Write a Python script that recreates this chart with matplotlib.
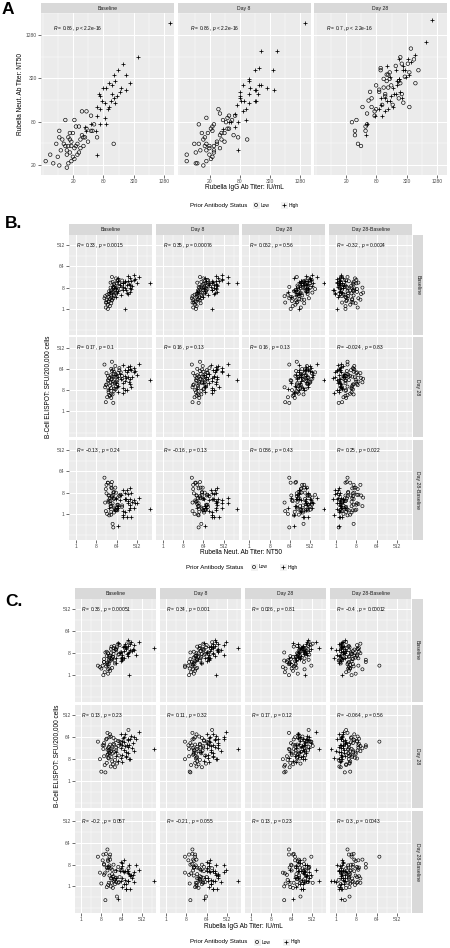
import numpy as np
import matplotlib
matplotlib.use("Agg")
import matplotlib.pyplot as plt
from matplotlib.ticker import FixedLocator, NullFormatter
from matplotlib.patches import Rectangle

plt.rcParams['font.family'] = ['Liberation Sans', 'DejaVu Sans']
plt.rcParams['mathtext.fontset'] = 'custom'
plt.rcParams['mathtext.rm'] = 'Liberation Sans'
plt.rcParams['mathtext.it'] = 'Liberation Sans:italic'

# ---------------- data: one entry per subject, values in log2 units ----------------
prior_status = ["Low"] * 52 + ["High"] * 37

igg_base_log2 = [3.8, 4.4, 4.9, 5.2, 5.5, 4.5, 4.7, 3.4, 3.4, 4.0, 4.3, 4.9, 5.0, 5.1, 5.5, 5.6, 5.9, 4.1,
                 4.2, 3.7, 3.8, 4.0, 4.2, 4.4, 4.5, 4.8, 5.0, 3.5, 3.9, 4.1, 4.6, 3.9, 4.3, 4.4, 2.8, 3.3,
                 2.5, 3.0, 3.4, 4.0, 3.9, 7.0, 4.6, 5.3, 4.1, 3.6, 4.8, 5.2, 4.2, 3.2, 5.7, 4.7,
                 10.7, 8.6, 7.6, 7.0, 7.8, 7.1, 8.1, 6.7, 6.3, 7.8, 6.5, 6.9, 6.1, 7.2, 7.0, 6.2, 6.4,
                 6.8, 7.1, 5.9, 6.1, 6.6, 5.9, 6.4, 5.5, 6.1, 6.5, 5.1, 5.2, 5.8, 5.9, 7.4, 6.7, 7.3,
                 7.5, 6.0, 6.9]
igg_day8_log2 = [4.1, 4.9, 5.0, 5.5, 5.6, 4.6, 5.2, 3.6, 3.8, 4.5, 4.5, 5.1, 5.0, 5.6, 5.5, 5.8, 6.2, 4.2,
                 4.1, 3.9, 4.3, 4.0, 4.3, 4.8, 4.6, 5.0, 5.3, 3.7, 4.0, 4.6, 4.6, 4.1, 4.3, 4.5, 2.8, 3.4,
                 2.8, 3.5, 3.4, 4.1, 3.9, 6.8, 5.1, 5.9, 4.4, 3.6, 5.3, 5.4, 4.4, 3.3, 6.0, 4.8,
                 10.6, 8.8, 7.7, 7.3, 8.5, 7.6, 8.6, 6.9, 6.5, 8.1, 6.9, 7.0, 6.3, 7.5, 7.3, 6.3, 6.6,
                 6.9, 7.4, 6.1, 6.4, 6.7, 6.0, 6.5, 5.6, 6.2, 6.7, 5.7, 5.2, 6.0, 6.2, 7.4, 6.9, 7.6,
                 7.7, 6.3, 7.3]
igg_day28_log2 = [7.2, 7.6, 6.8, 7.1, 8.6, 6.3, 6.6, 5.9, 7.8, 6.8, 7.0, 7.4, 5.4, 7.8, 9.1, 8.0, 8.1, 6.6,
                  7.1, 6.3, 5.8, 7.9, 6.5, 8.0, 6.9, 8.2, 5.7, 5.0, 6.0, 8.5, 6.7, 5.7, 6.2, 4.9, 4.7, 5.6,
                  8.9, 5.1, 5.3, 6.9, 5.6, 8.5, 7.9, 7.3, 7.2, 4.9, 7.0, 8.4, 6.0, 6.5, 8.8, 6.2,
                  10.0, 9.6, 8.9, 8.4, 8.6, 7.8, 8.2, 7.6, 7.2, 7.8, 7.0, 8.1, 7.2, 7.7, 7.4, 6.9, 7.6,
                  7.8, 8.0, 7.0, 6.7, 7.3, 6.6, 7.9, 6.2, 6.9, 7.5, 6.5, 5.7, 7.1, 5.6, 8.3, 7.4, 8.1,
                  8.5, 6.6, 7.7]
neut_base_log2 = [6.4, 6.4, 6.8, 6.8, 6.6, 6.1, 6.1, 5.9, 5.6, 5.6, 5.8, 5.7, 5.6, 5.6, 5.9, 5.9, 5.6, 5.5,
                  5.4, 5.3, 5.2, 5.2, 5.2, 5.1, 5.2, 5.1, 5.2, 5.0, 5.0, 4.9, 4.8, 4.8, 4.7, 4.6, 4.8, 4.7,
                  4.5, 4.4, 4.3, 4.4, 4.2, 5.3, 5.3, 5.4, 5.8, 5.5, 5.5, 6.0, 4.5, 5.3, 6.2, 4.9,
                  10.9, 9.3, 9.0, 8.5, 8.5, 8.2, 8.1, 8.1, 7.9, 7.8, 7.9, 8.0, 7.5, 7.5, 7.4, 7.3, 7.2,
                  7.3, 7.2, 7.0, 6.9, 6.9, 6.6, 6.5, 6.2, 6.2, 6.2, 6.1, 5.9, 5.9, 4.8, 7.7, 7.0, 8.7,
                  7.9, 7.6, 7.6]
neut_day8_log2 = [6.5, 6.9, 6.7, 6.5, 6.6, 6.2, 6.4, 6.2, 5.8, 6.1, 5.9, 5.8, 5.7, 6.0, 6.0, 6.4, 5.6, 5.8,
                  5.3, 5.5, 5.2, 5.6, 5.1, 5.4, 5.2, 5.1, 5.4, 5.0, 5.2, 5.0, 4.9, 5.0, 4.8, 4.7, 4.8, 4.9,
                  4.5, 4.4, 4.4, 4.5, 4.3, 5.5, 5.5, 5.7, 6.0, 5.3, 5.8, 6.3, 4.6, 5.3, 6.6, 5.3,
                  10.9, 9.6, 9.6, 8.7, 8.7, 8.0, 7.8, 8.3, 8.0, 7.9, 8.2, 7.9, 7.7, 7.6, 7.3, 7.4, 7.3,
                  7.6, 7.3, 7.1, 7.3, 6.9, 6.7, 6.8, 6.3, 6.3, 6.4, 6.3, 6.0, 6.1, 5.0, 7.8, 7.2, 8.8,
                  8.0, 7.5, 7.8]
neut_day28_log2 = [8.6, 8.9, 8.3, 7.9, 9.7, 8.0, 8.7, 7.7, 7.4, 7.9, 8.5, 7.1, 7.0, 8.2, 8.7, 7.6, 7.2, 8.8,
                   8.5, 6.9, 7.3, 8.1, 7.8, 9.0, 7.5, 8.4, 6.7, 6.4, 7.4, 8.6, 7.1, 6.2, 6.8, 5.7, 6.3, 6.1,
                   8.1, 5.3, 5.2, 7.6, 5.9, 7.0, 9.3, 8.0, 8.3, 5.9, 8.2, 9.0, 7.0, 7.7, 9.2, 6.6,
                   11.0, 10.0, 9.4, 9.2, 9.1, 9.2, 8.7, 8.7, 8.4, 8.3, 8.9, 8.7, 7.3, 8.0, 7.0, 7.4, 7.6,
                   8.3, 7.4, 7.3, 6.6, 7.5, 7.1, 7.7, 6.6, 6.8, 7.6, 6.9, 6.2, 6.9, 5.7, 8.4, 7.9, 8.9,
                   8.5, 7.4, 8.2]
spot_base_log2 = [3.2, 3.6, 4.0, 3.4, 2.8, 3.9, 2.5, 2.2, 1.8, 3.0, 2.7, 3.3, 2.0, 3.5, 4.3, 2.9, 3.1, 1.5,
                  2.4, 1.2, 2.6, 0.8, 1.9, 3.0, 2.2, 3.7, 1.6, 0.4, 1.4, 2.1, 1.0, 1.7, 0.6, 2.0, 1.1, 0.0,
                  1.3, 0.9, 1.8, 0.2, 1.5, 4.5, 2.3, 3.8, 2.6, 3.1, 2.9, 3.6, 0.9, 1.3, 4.1, 2.5,
                  3.7, 4.5, 3.6, 4.8, 4.1, 3.2, 2.8, 3.9, 2.4, 3.5, 4.3, 3.0, 2.2, 3.4, 2.6, 3.8, 4.0,
                  2.9, 0.0, 3.1, 2.7, 3.6, 2.0, 3.3, 4.4, 2.5, 3.9, 2.3, 1.7, 3.0, 2.4, 4.6, 3.7, 4.2,
                  3.3, 2.1, 4.0]
spot_day28_log2 = [5.8, 6.1, 5.0, 4.6, 5.5, 4.4, 3.8, 5.2, 4.9, 3.2, 6.4, 4.0, 2.9, 5.6, 4.8, 3.5, 5.3, 4.2,
                   3.9, 5.7, 2.5, 4.5, 6.0, 4.1, 3.3, 5.1, 1.9, 2.2, 3.6, 4.7, 2.7, 4.3, 5.0, 2.0, 3.0, 4.4,
                   5.4, 1.3, 3.4, 3.7, 6.6, 7.0, 4.6, 2.4, 3.1, 1.2, 5.9, 4.2, 3.8, 4.9, 5.4, 2.3,
                   4.4, 6.7, 5.2, 5.6, 6.1, 4.9, 5.8, 3.5, 6.0, 4.1, 6.4, 3.8, 5.5, 3.0, 4.7, 5.9, 4.3,
                   5.0, 3.0, 6.5, 2.6, 4.0, 4.6, 5.3, 2.7, 3.6, 4.8, 3.4, 4.0, 5.1, 3.2, 6.2, 3.3, 5.7,
                   4.5, 4.9, 5.8]

time_cols = ["Baseline", "Day 8", "Day 28", "Day 28-Baseline"]
spot_rows = ["Baseline", "Day 28", "Day 28-Baseline"]

cor_A_r = ["0.86", "0.86", "0.7"]
cor_A_p = ["< 2.2e-16", "< 2.2e-16", "< 2.2e-16"]
cor_B_r = [["0.33", "0.35", "0.062", "\u22120.32"],
           ["0.17", "0.16", "0.16", "\u22120.024"],
           ["\u22120.13", "\u22120.16", "0.086", "0.25"]]
cor_B_p = [["= 0.0015", "= 0.00076", "= 0.56", "= 0.0024"],
           ["= 0.1", "= 0.13", "= 0.13", "= 0.83"],
           ["= 0.24", "= 0.13", "= 0.43", "= 0.022"]]
cor_C_r = [["0.36", "0.34", "0.026", "\u22120.4"],
           ["0.13", "0.11", "0.17", "\u22120.064"],
           ["\u22120.2", "\u22120.21", "0.13", "0.3"]]
cor_C_p = [["= 0.00051", "= 0.001", "= 0.81", "= 0.00012"],
           ["= 0.23", "= 0.32", "= 0.12", "= 0.56"],
           ["= 0.057", "= 0.055", "= 0.23", "= 0.0043"]]

ticks_A = [20, 80, 320, 1280]
ticks_BC = [1, 8, 64, 512]

# ---------------- derived (titers) ----------------
status = np.array(prior_status)
IGG = {"Baseline": 2.0 ** np.array(igg_base_log2),
       "Day 8": 2.0 ** np.array(igg_day8_log2),
       "Day 28": 2.0 ** np.array(igg_day28_log2)}
IGG["Day 28-Baseline"] = IGG["Day 28"] / IGG["Baseline"]
NEUT = {"Baseline": 2.0 ** np.array(neut_base_log2),
        "Day 8": 2.0 ** np.array(neut_day8_log2),
        "Day 28": 2.0 ** np.array(neut_day28_log2)}
NEUT["Day 28-Baseline"] = NEUT["Day 28"] / NEUT["Baseline"]
SPOT = {"Baseline": 2.0 ** np.array(spot_base_log2),
        "Day 28": 2.0 ** np.array(spot_day28_log2)}
SPOT["Day 28-Baseline"] = SPOT["Day 28"] / SPOT["Baseline"]

# ---------------- figure ----------------
W, H = 450, 948
fig = plt.figure(figsize=(W / 100, H / 100), dpi=100)
fig.patch.set_facecolor("white")

PANEL_BG = "#EBEBEB"
STRIP_BG = "#D9D9D9"
STRIP_TXT = "#1A1A1A"
TICK_TXT = "#4D4D4D"


def rect(x0, y0, x1, y1):
    return [x0 / W, 1 - y1 / H, (x1 - x0) / W, (y1 - y0) / H]


def minor_breaks(major, lim):
    b = list(np.log2(major))
    bd = b[1] - b[0]
    if lim[0] < b[0]:
        b = [b[0] - bd] + b
    if lim[1] > b[-1]:
        b = b + [b[-1] + bd]
    out = []
    for a, c in zip(b[:-1], b[1:]):
        out += [a, (a + c) / 2]
    out.append(b[-1])
    majl = list(np.log2(major))
    return [2 ** v for v in out if lim[0] <= v <= lim[1] and min(abs(v - m) for m in majl) > 1e-6]


def facet(px, x, y, xlim, ylim, ticks, show_x, show_y, label, lab_xy, s_o, s_p):
    ax = fig.add_axes(rect(*px))
    ax.set_facecolor(PANEL_BG)
    low = status == "Low"
    ax.scatter(x[low], y[low], marker='o', facecolors='none', edgecolors='black',
               s=s_o, linewidths=0.45, zorder=3)
    ax.scatter(x[~low], y[~low], marker='+', c='black', s=s_p, linewidths=0.55, zorder=3)
    ax.set_xscale('log', base=2)
    ax.set_yscale('log', base=2)
    ax.set_xlim(2 ** xlim[0], 2 ** xlim[1])
    ax.set_ylim(2 ** ylim[0], 2 ** ylim[1])
    ax.xaxis.set_major_locator(FixedLocator(ticks))
    ax.yaxis.set_major_locator(FixedLocator(ticks))
    ax.xaxis.set_minor_locator(FixedLocator(minor_breaks(ticks, xlim)))
    ax.yaxis.set_minor_locator(FixedLocator(minor_breaks(ticks, ylim)))
    ax.xaxis.set_minor_formatter(NullFormatter())
    ax.yaxis.set_minor_formatter(NullFormatter())
    ax.set_xticklabels([str(t) for t in ticks])
    ax.set_yticklabels([str(t) for t in ticks])
    ax.grid(which='major', color='white', lw=0.75, zorder=0)
    ax.grid(which='minor', color='white', lw=0.35, zorder=0)
    ax.set_axisbelow(True)
    for sp in ax.spines.values():
        sp.set_visible(False)
    ax.tick_params(which='minor', length=0)
    ax.tick_params(which='major', length=2, width=0.5, color='#333333',
                   labelsize=3.6, labelcolor=TICK_TXT, pad=1)
    if not show_x:
        ax.tick_params(axis='x', which='major', length=0, labelbottom=False)
    if not show_y:
        ax.tick_params(axis='y', which='major', length=0, labelleft=False)
    ax.text(lab_xy[0], lab_xy[1], label, fontsize=3.5, ha='left', va='center', color='black', zorder=4)
    return ax


def strip(px, text, rot=0):
    ax = fig.add_axes(rect(*px))
    ax.set_facecolor(STRIP_BG)
    ax.set_xticks([])
    ax.set_yticks([])
    for sp in ax.spines.values():
        sp.set_visible(False)
    ax.text(0.5, 0.5, text, ha='center', va='center', fontsize=3.7, color=STRIP_TXT,
            rotation=rot, transform=ax.transAxes)


def cor_label(r, p):
    return r"$\it{R}\ $" + "= " + r + " , " + r"$\it{p}\ $" + p


# ---------------- Panel A ----------------
A_cols = [(41, 174), (177.5, 310.5), (314, 447)]
A_strip = (3, 13.3)
A_plot = (13.3, 175)
A_xlim = (2.19, 10.99)
A_ylim = (3.86, 11.33)
for j, tp in enumerate(time_cols[:3]):
    x0, x1 = A_cols[j]
    strip((x0, A_strip[0], x1, A_strip[1]), tp)
    facet((x0, A_plot[0], x1, A_plot[1]), IGG[tp], NEUT[tp], A_xlim, A_ylim, ticks_A,
          True, j == 0, cor_label(cor_A_r[j], cor_A_p[j]), (8, 2 ** 10.64), 6.5, 9)


# ---------------- Panels B and C ----------------
def grid_panel(cols, rows, strip_y, right_x, xdict, xlim, ylim, cr, cp):
    for j, tc in enumerate(time_cols):
        x0, x1 = cols[j]
        strip((x0, strip_y[0], x1, strip_y[1]), tc)
        for i, tr in enumerate(spot_rows):
            y0, y1 = rows[i]
            facet((x0, y0, x1, y1), xdict[tc], SPOT[tr], xlim, ylim, ticks_BC,
                  i == len(spot_rows) - 1, j == 0, cor_label(cr[i][j], cp[i][j]), (1, 512), 5, 7)
    for i, tr in enumerate(spot_rows):
        y0, y1 = rows[i]
        strip((right_x[0], y0, right_x[1], y1), tr, rot=-90)


B_cols = [(69, 152), (155.7, 238.7), (242.3, 325.3), (329, 412)]
B_rows = [(235, 335), (337.5, 437.5), (440, 540)]
grid_panel(B_cols, B_rows, (224, 235), (412.6, 423.2), NEUT, (-1.03, 11.21), (-3.67, 10.41),
           cor_B_r, cor_B_p)

C_cols = [(75, 156), (160, 241), (245, 326), (330, 411)]
C_rows = [(599, 702), (705, 808), (811, 913)]
grid_panel(C_cols, C_rows, (588, 599), (411.8, 422.6), IGG, (-0.88, 11.06), (-3.67, 10.41),
           cor_C_r, cor_C_p)

# ---------------- overlay: titles, panel letters, legends ----------------
ov = fig.add_axes([0, 0, 1, 1], zorder=10)
ov.set_xlim(0, W)
ov.set_ylim(H, 0)
ov.axis('off')
ov.patch.set_alpha(0)

ov.text(2, 9, "A", fontsize=12.5, fontweight='bold', ha='left', va='center')
ov.text(5, 223, "B.", fontsize=12.5, fontweight='bold', ha='left', va='center')
ov.text(5, 602, "C.", fontsize=12.5, fontweight='bold', ha='left', va='center')

TITLE_FS = 4.7
ov.text(244, 187, "Rubella IgG Ab Titer: IU/mL", fontsize=TITLE_FS, ha='center', va='center')
ov.text(21, 94, "Rubella Neut. Ab Titer: NT50", fontsize=TITLE_FS, ha='center', va='center', rotation=90)
ov.text(240.5, 553, "Rubella Neut. Ab Titer: NT50", fontsize=TITLE_FS, ha='center', va='center')
ov.text(48, 387, "B-Cell ELISPOT: SFU/200,000 cells", fontsize=TITLE_FS, ha='center', va='center', rotation=90)
ov.text(243, 927, "Rubella IgG Ab Titer: IU/mL", fontsize=TITLE_FS, ha='center', va='center')
ov.text(57, 756, "B-Cell ELISPOT: SFU/200,000 cells", fontsize=TITLE_FS, ha='center', va='center', rotation=90)


def legend(yc, title_right, k1, k2):
    ov.text(title_right, yc, "Prior Antibody Status", fontsize=4.4, ha='right', va='center')
    for kx, lab, mk in [(k1, "Low", 'o'), (k2, "High", '+')]:
        ov.add_patch(Rectangle((kx - 3.5, yc - 3.5), 7, 7, facecolor='#F2F2F2', edgecolor='none'))
        if mk == 'o':
            ov.scatter([kx], [yc], marker='o', facecolors='none', edgecolors='black', s=5, linewidths=0.45)
        else:
            ov.scatter([kx], [yc], marker='+', c='black', s=7, linewidths=0.55)
        ov.text(kx + 5, yc, lab, fontsize=3.5, ha='left', va='center')


legend(205, 247, 256, 284)
legend(567, 243, 254, 283)
legend(942, 247, 257, 286)

fig.savefig("out.png", dpi=100)
